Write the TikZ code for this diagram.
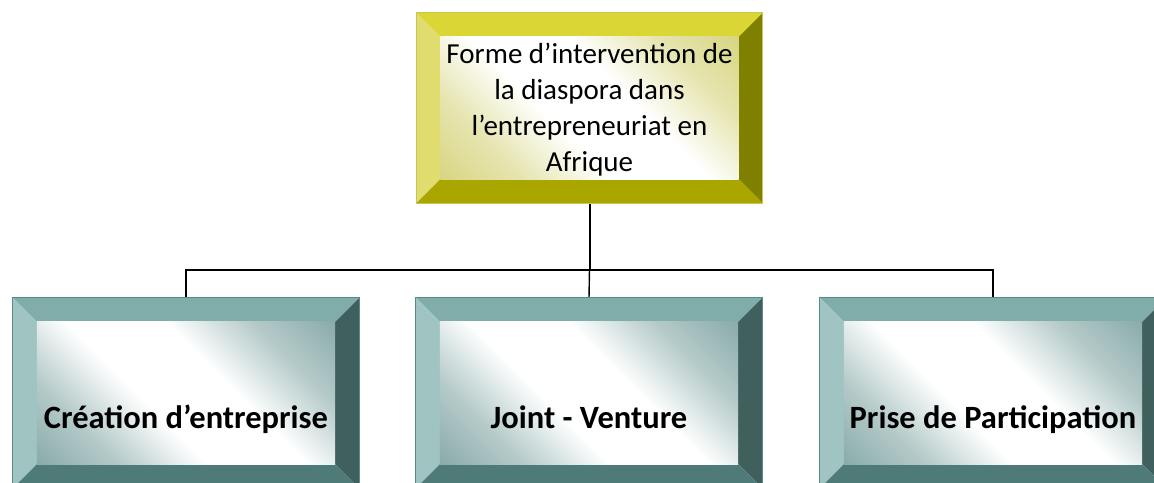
\documentclass[tikz,border=0pt]{standalone}
\usepackage{fontspec}
\setmainfont{Carlito}
\definecolor{yeltop}{RGB}{217,214,54}
\definecolor{yelleft}{RGB}{224,220,110}
\definecolor{yelright}{RGB}{128,128,0}
\definecolor{yelbottom}{RGB}{170,166,0}
\definecolor{yelinner}{RGB}{200,197,80}
\definecolor{tealtop}{RGB}{128,173,170}
\definecolor{tealleft}{RGB}{160,196,194}
\definecolor{tealright}{RGB}{64,96,94}
\definecolor{tealbottom}{RGB}{78,122,120}
\definecolor{tealinner}{RGB}{90,138,136}
% inner shadings: dark corners, broad white band
\pgfdeclareverticalshading{yelshade}{100bp}{color(0bp)=(yelinner); color(28bp)=(yelinner!45!white); color(42bp)=(white); color(58bp)=(white); color(72bp)=(yelinner!45!white); color(100bp)=(yelinner)}
\pgfdeclareverticalshading{tealshade}{100bp}{color(0bp)=(tealinner); color(28bp)=(tealinner!45!white); color(42bp)=(white); color(58bp)=(white); color(72bp)=(tealinner!45!white); color(100bp)=(tealinner)}
% bevelled frame round a named node: #1 node, #2 colour prefix
\newcommand{\bevelframe}[2]{%
  \fill[#2top] (#1.north west) -- (#1.north east) -- ([shift={(-24,24)}]#1.north east) -- ([shift={(24,24)}]#1.north west) -- cycle;
  \fill[#2left] (#1.north west) -- ([shift={(24,24)}]#1.north west) -- ([shift={(24,-24)}]#1.south west) -- (#1.south west) -- cycle;
  \fill[#2right] (#1.north east) -- (#1.south east) -- ([shift={(-24,-24)}]#1.south east) -- ([shift={(-24,24)}]#1.north east) -- cycle;
  \fill[#2bottom] (#1.south west) -- ([shift={(24,-24)}]#1.south west) -- ([shift={(-24,-24)}]#1.south east) -- (#1.south east) -- cycle;
  \shade[shading=#2shade, shading angle=-45] ([shift={(24,24)}]#1.north west) rectangle ([shift={(-24,-24)}]#1.south east);
  \draw[#2inner, line width=0.8pt] (#1.north west) rectangle (#1.south east);
}
\tikzset{
  framebox/.style={minimum width=346pt, minimum height=190pt, inner sep=0pt},
  toptext/.style={align=center, font=\fontsize{29}{36}\selectfont},
  subtext/.style={anchor=base, font=\fontsize{32.5}{38}\selectfont\bfseries},
  link/.style={line width=2pt}
}

\begin{document}
\begin{tikzpicture}[x=1pt, y=-1pt]
\useasboundingbox (0,0) rectangle (1154,482);
\node[framebox] (forme) at (589.5,108) {};
\node[framebox] (creation) at (186,393) {};
\node[framebox] (joint) at (589,393) {};
\node[framebox] (prise) at (993,393) {};
\coordinate (hub) at (589.5,269.5);
% connectors
\draw[link] (forme.south) -- (hub);
\draw[link] (creation.north) |- (hub) -| (prise.north);
\draw[line width=1.4pt] (hub) -- (joint.north);
% frames
\bevelframe{forme}{yel}
\bevelframe{creation}{teal}
\bevelframe{joint}{teal}
\bevelframe{prise}{teal}
% texts
\node[toptext] (formetext) at (589.5,110) {Forme d’intervention de\\la diaspora dans\\l’entrepreneuriat en\\Afrique};
\node[subtext] (creationtext) at (186,428) {Création d’entreprise};
\node[subtext] (jointtext) at (589,428) {Joint - Venture};
\node[subtext] (prisetext) at (993,428) {Prise de Participation};
\end{tikzpicture}
\end{document}
